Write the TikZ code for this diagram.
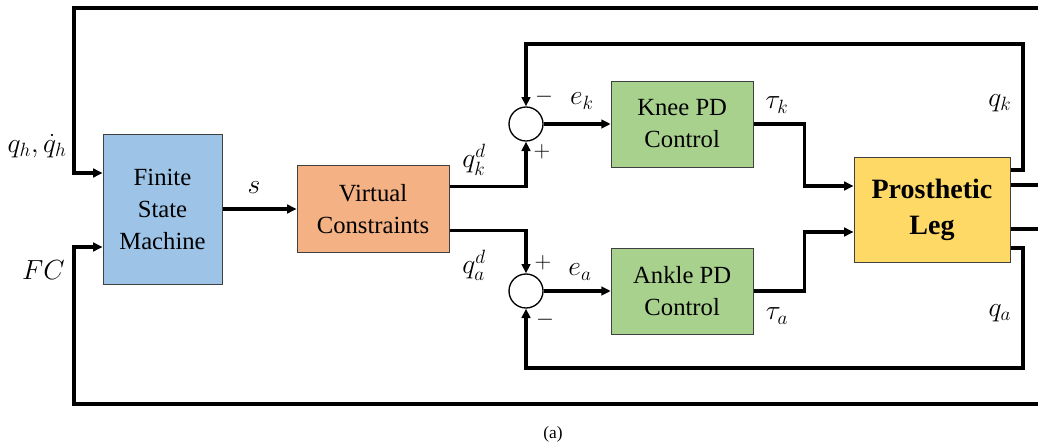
\documentclass[tikz,border=0pt]{standalone}
\usepackage{amsmath}
\usepackage{fontspec}
\setmainfont{Liberation Serif}
\usetikzlibrary{positioning,arrows.meta,calc}

\definecolor{fsmblue}{HTML}{9DC3E6}
\definecolor{vcorange}{HTML}{F4B183}
\definecolor{pdgreen}{HTML}{A9D18E}
\definecolor{legyellow}{HTML}{FFD966}

\begin{document}
\begin{tikzpicture}[
  x=0.75pt, y=-0.75pt,
  block/.style={
    draw=black!75, line width=0.75pt,
    align=center, inner sep=0pt,
    font=\fontsize{18.5}{24}\selectfont
  },
  sum/.style={draw, circle, line width=1pt, minimum size=25.5pt, inner sep=0pt},
  wire/.style={line width=2.3pt},
  arr/.style={wire, -{Triangle[length=7pt,width=6.5pt]}},
  lbl/.style={font=\fontsize{22}{24}\selectfont, inner sep=0pt},
  sgn/.style={font=\fontsize{18}{20}\selectfont, inner sep=0pt}
]
\useasboundingbox (0,0) rectangle (1038,446);

\node[block, fill=fsmblue, minimum width=89.25pt, minimum height=112.5pt] (fsm) at (162.5,209) {Finite\\State\\Machine};
\node[block, fill=vcorange, minimum width=114pt, minimum height=65.25pt] (vc) [right=55.5pt of fsm] {Virtual\\Constraints};

\node[sum] (sumk) at (526,124) {};
\node[sum] (suma) at (526,291) {};

\node[block, fill=pdgreen, minimum width=106.5pt, minimum height=64.5pt] (knee) [right=50.25pt of sumk] {Knee PD\\Control};
\node[block, fill=pdgreen, minimum width=106.5pt, minimum height=64.5pt] (ankle) [right=50.25pt of suma] {Ankle PD\\Control};

\node[block, fill=legyellow, minimum width=117pt, minimum height=78.75pt,
  font=\fontsize{21}{27}\selectfont\bfseries] (leg) at (932,209.5) {Prosthetic\\Leg};

% free ends at the right edge
\coordinate (outT) at (1040,8);
\coordinate (outB) at (1040,404);
\coordinate (outK) at (1040,185);
\coordinate (outA) at (1040,229);

% labels
\node[lbl, anchor=east] (qh) at (67,146) {$q_h,\dot{q}_h$};
\node[lbl, anchor=east] (fc) at (65,270) {$FC$};
\node[lbl] (s) at (254,188) {$s$};
\node[lbl] (qkd) at (474,160) {$q_k^d$};
\node[lbl] (qad) at (474,265) {$q_a^d$};
\node[lbl] (ek) at (582,101) {$e_k$};
\node[lbl] (ea) at (580,272) {$e_a$};
\node[lbl] (tk) at (777,105) {$\tau_k$};
\node[lbl] (ta) at (777,316) {$\tau_a$};
\node[lbl] (qk) at (1000,103) {$q_k$};
\node[lbl] (qa) at (1000,313) {$q_a$};

\node[sgn] (mk) at (544,97) {$-$};
\node[sgn] (pk) at (542,152) {$+$};
\node[sgn] (pa) at (543,263) {$+$};
\node[sgn] (ma) at (545,320) {$-$};

\node[font=\fontsize{13}{15}\selectfont] (cap) at (553,434) {(a)};

% forward path
\draw[arr] (fsm.east) -- (fsm.east -| vc.west);
\draw[arr] ($(vc.north east)!0.24!(vc.south east)$) -| (sumk.south);
\draw[arr] ($(vc.north east)!0.74!(vc.south east)$) -| (suma.north);

\draw[arr] (sumk.east) -- (knee.west);
\draw[arr] (suma.east) -- (ankle.west);

\draw[arr] (knee.east) -- ++(51,0) |- (leg.west |- 0,186);
\draw[arr] (ankle.east) -- ++(51,0) |- (leg.west |- 0,232);

% inner feedback
\draw[arr] (leg.east |- 0,170) -| (1023,44) -| (sumk.north);
\draw[arr] (leg.east |- 0,248) -| (1023,368) -| (suma.south);

% outputs
\draw[wire] (leg.east |- 0,185) -- (outK);
\draw[wire] (leg.east |- 0,229) -- (outA);

% outer feedback
\draw[arr] (outT) -| (74,173) -- (fsm.west |- 0,173);
\draw[arr] (outB) -| (74,247) -- (fsm.west |- 0,247);

\end{tikzpicture}
\end{document}
